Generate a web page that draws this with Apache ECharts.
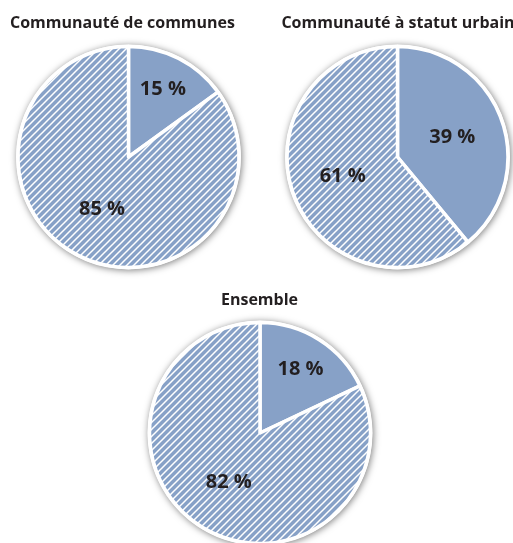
<!DOCTYPE html>
<html>
<head>
<meta charset="utf-8">
<script src="https://cdn.jsdelivr.net/npm/echarts@6/dist/echarts.min.js"></script>
<style>
  html, body { margin: 0; padding: 0; background: #ffffff; }
  #chart { width: 513px; height: 543px; }
</style>
</head>
<body>
<div id="chart"></div>
<script>
// Share of each group (percent): plain slice vs hatched slice
const groupTitles = ['Communauté de communes', 'Communauté à statut urbain', 'Ensemble'];
const plainShare = [15, 39, 18];
const hatchedShare = [85, 61, 82];

// Pie placement (pixels) and title placement
const pieCenters = [[128.5, 157], [397.5, 157], [260, 433]];
const titlePos = [[122.5, 23], [398, 23], [259.5, 300]];

const BLUE = '#87a1c7';
const INK = '#231f20';
const FONT = '"Open Sans", "Noto Sans", sans-serif';
const R = 110.5;

// Diagonal white hatching on the blue fill
function hatchPattern() {
  const s = 7;
  const c = document.createElement('canvas');
  c.width = s; c.height = s;
  const g = c.getContext('2d');
  g.fillStyle = BLUE;
  g.fillRect(0, 0, s, s);
  g.strokeStyle = '#ffffff';
  g.lineWidth = 1.5;
  g.beginPath();
  g.moveTo(-1, s + 1); g.lineTo(s + 1, -1);
  g.moveTo(-1, 1); g.lineTo(1, -1);
  g.moveTo(s - 1, s + 1); g.lineTo(s + 1, s - 1);
  g.stroke();
  return c;
}
const hatch = { image: hatchPattern(), repeat: 'repeat' };

const chart = echarts.init(document.getElementById('chart'), null, { renderer: 'canvas' });

const series = [];
groupTitles.forEach((name, k) => {
  const [cx, cy] = pieCenters[k];
  // white disc with a soft shadow under each pie
  series.push({
    type: 'pie',
    silent: true,
    center: [cx, cy],
    radius: [0, R + 2],
    z: 1,
    label: { show: false },
    labelLine: { show: false },
    itemStyle: {
      color: '#ffffff',
      shadowBlur: 7,
      shadowColor: 'rgba(0,0,0,0.5)',
      shadowOffsetX: 1,
      shadowOffsetY: 1
    },
    data: [{ value: 1 }]
  });
  series.push({
    type: 'pie',
    name: name,
    silent: true,
    center: [cx, cy],
    radius: [0, R],
    startAngle: 90,
    clockwise: true,
    z: 2,
    itemStyle: { borderColor: '#ffffff', borderWidth: 3.5 },
    label: {
      show: true,
      position: 'inside',
      formatter: '{c} %',
      color: INK,
      fontFamily: FONT,
      fontWeight: 'bold',
      fontSize: 20
    },
    labelLine: { show: false },
    // narrow slices carry their label further toward the rim
    labelLayout: function (p) {
      if (p.dataIndex !== 0 || plainShare[k] > 25) return {};
      const lx = p.labelRect.x + p.labelRect.width / 2;
      const ly = p.labelRect.y + p.labelRect.height / 2;
      return { dx: (lx - cx) * 0.3, dy: (ly - cy) * 0.3 };
    },
    data: [
      { value: plainShare[k], itemStyle: { color: BLUE } },
      { value: hatchedShare[k], itemStyle: { color: hatch } }
    ]
  });
});

const graphic = groupTitles.map((t, k) => ({
  type: 'text',
  x: titlePos[k][0],
  y: titlePos[k][1],
  style: {
    text: t,
    fill: INK,
    font: 'bold 16px ' + FONT,
    textAlign: 'center',
    textVerticalAlign: 'middle'
  }
}));

chart.setOption({
  animation: false,
  backgroundColor: '#ffffff',
  graphic: graphic,
  series: series
});
</script>
</body>
</html>
